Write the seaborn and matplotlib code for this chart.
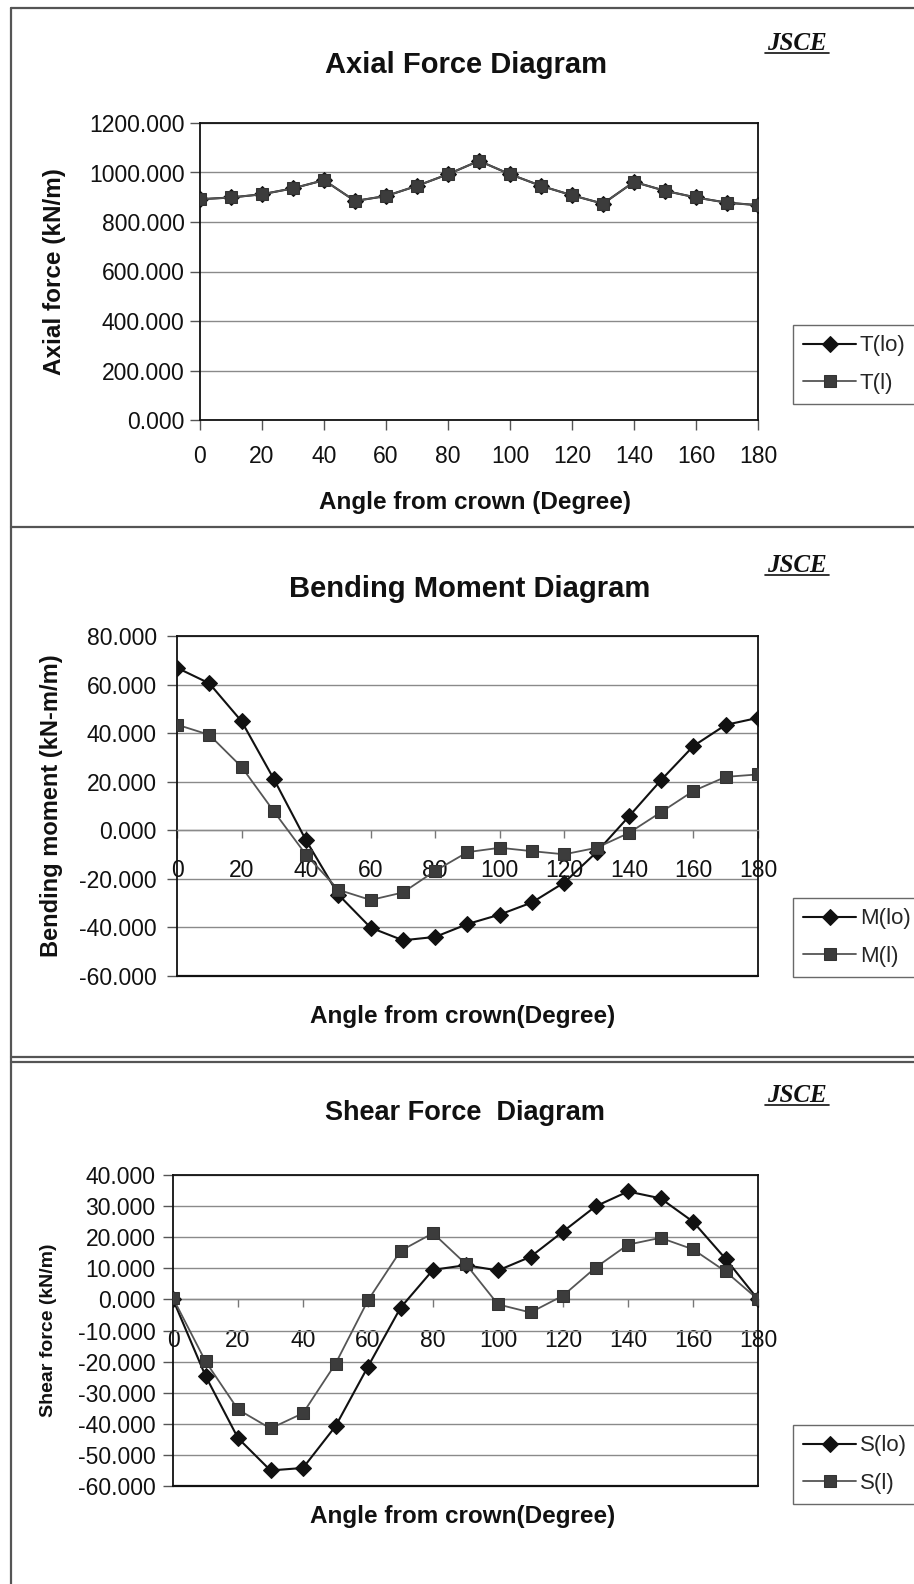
import matplotlib
matplotlib.use("Agg")
import matplotlib.pyplot as plt
from matplotlib.lines import Line2D
from matplotlib.ticker import MultipleLocator, FormatStrFormatter
import seaborn as sns
import pandas as pd

# ---------------- data ----------------
angles = [0, 10, 20, 30, 40, 50, 60, 70, 80, 90, 100, 110, 120, 130, 140, 150, 160, 170, 180]
x_ticks = [0, 20, 40, 60, 80, 100, 120, 140, 160, 180]

t_lo = [892, 899, 912, 936, 969, 885, 905, 946, 993, 1047, 993, 946, 908, 874, 962, 926, 899, 878, 868]
t_l = [892, 899, 912, 936, 969, 885, 905, 946, 993, 1047, 993, 946, 908, 874, 962, 926, 899, 878, 868]

m_lo = [66.9, 60.5, 44.9, 21.1, -4.2, -26.5, -40.1, -45.3, -43.9, -38.6, -34.7, -29.7, -21.5, -9.0, 5.7, 20.7, 34.7, 43.4, 46.3]
m_l = [43.5, 39.3, 26.1, 7.8, -10.1, -24.5, -28.7, -25.6, -16.7, -9.0, -7.2, -8.6, -9.9, -7.2, -1.1, 7.5, 16.2, 22.0, 23.0]

s_lo = [0.0, -24.6, -44.6, -55.0, -54.2, -40.8, -21.6, -2.7, 9.5, 11.0, 9.3, 13.7, 21.8, 29.9, 34.7, 32.5, 25.0, 13.1, 0.0]
s_l = [0.4, -19.9, -35.4, -41.5, -36.6, -20.7, -0.3, 15.6, 21.3, 11.5, -1.6, -4.2, 1.2, 10.2, 17.6, 19.8, 16.1, 9.0, 0.0]

titles = ["Axial Force Diagram", "Bending Moment Diagram", "Shear Force  Diagram"]
ylabels = ["Axial force (kN/m)", "Bending moment (kN-m/m)", "Shear force (kN/m)"]
xlabels = ["Angle from crown (Degree)", "Angle from crown(Degree)", "Angle from crown(Degree)"]
legend_labels = [["T(lo)", "T(l)"], ["M(lo)", "M(l)"], ["S(lo)", "S(l)"]]
stamp = "JSCE"

# ---------------- style ----------------
sns.set_style("white")
plt.rcParams["font.family"] = ["Liberation Sans", "DejaVu Sans"]

W, H = 914, 1584
fig = plt.figure(figsize=(W / 100, H / 100), dpi=100)
fig.patch.set_facecolor("white")


def fx(px):
    return px / W


def fy(py):
    return 1 - py / H


def axes_rect(left, right, top, bottom):
    return [fx(left), fy(bottom), (right - left) / W, (bottom - top) / H]


panels = [
    dict(rect=axes_rect(200, 758, 123, 420), ylim=(0, 1200), ystep=200, lo=t_lo, l=t_l,
         zero_axis=False, title_y=73, title_size=21, title_x=466, stamp_base=50,
         xlabel_y=502, xlabel_x=475, ylabel_x=54, ylabel_size=17.5, tick_size=16.5,
         legend_bottom=404, ypad=4, xpad=11),
    dict(rect=axes_rect(177, 758, 636, 976), ylim=(-60, 80), ystep=20, lo=m_lo, l=m_l,
         zero_axis=True, title_y=597, title_size=21, title_x=470, stamp_base=572,
         xlabel_y=1016, xlabel_x=463, ylabel_x=52, ylabel_size=17, tick_size=16.5,
         legend_bottom=977, ypad=7.5, xpad=15),
    dict(rect=axes_rect(173, 758, 1175, 1486), ylim=(-60, 40), ystep=10, lo=s_lo, l=s_l,
         zero_axis=True, title_y=1120, title_size=19.5, title_x=465, stamp_base=1102,
         xlabel_y=1516, xlabel_x=463, ylabel_x=49, ylabel_size=14, tick_size=16.5,
         legend_bottom=1504, ypad=5.5, xpad=15),
]

for i, p in enumerate(panels):
    ax = fig.add_axes(p["rect"])
    df = pd.DataFrame({"angle": angles, "lo": p["lo"], "l": p["l"]})
    sns.lineplot(data=df, x="angle", y="lo", ax=ax, color="#111111", lw=1.5,
                 marker="D", markersize=8.5, markeredgecolor="#111111",
                 markerfacecolor="#111111", label=legend_labels[i][0], zorder=4)
    sns.lineplot(data=df, x="angle", y="l", ax=ax, color="#555555", lw=1.3,
                 marker="s", markersize=8, markeredgecolor="#333333",
                 markerfacecolor="#3c3c3c", label=legend_labels[i][1], zorder=5)

    ax.set_xlim(0, 180)
    ax.set_ylim(*p["ylim"])
    ax.yaxis.set_major_locator(MultipleLocator(p["ystep"]))
    ax.yaxis.set_major_formatter(FormatStrFormatter("%.3f"))
    ax.set_xticks(x_ticks)
    ax.grid(axis="y", color="#8a8a8a", lw=1.0)
    ax.grid(axis="x", visible=False)
    ax.set_axisbelow(True)

    for side in ["left", "right", "top"]:
        ax.spines[side].set_color("#111111")
        ax.spines[side].set_linewidth(1.3)
        ax.spines[side].set_visible(True)

    ax.tick_params(axis="y", direction="out", length=7, width=1, color="#555555",
                   labelsize=p["tick_size"], pad=p["ypad"], left=True, labelcolor="#111111")
    if p["zero_axis"]:
        ax.spines["bottom"].set_position(("data", 0))
        ax.spines["bottom"].set_color("#8a8a8a")
        ax.spines["bottom"].set_linewidth(1.0)
        ax.axhline(p["ylim"][0], color="#111111", lw=1.6, clip_on=False, zorder=6)
        ax.tick_params(axis="x", direction="out", length=6, width=1, color="#777777",
                       labelsize=p["tick_size"], pad=p["xpad"], bottom=True,
                       labelcolor="#111111")
    else:
        ax.spines["bottom"].set_color("#111111")
        ax.spines["bottom"].set_linewidth(1.3)
        ax.tick_params(axis="x", direction="out", length=7, width=1, color="#555555",
                       labelsize=p["tick_size"], pad=p["xpad"], bottom=True,
                       labelcolor="#111111")

    ax.set_xlabel(xlabels[i], fontsize=17.5, fontweight="bold", color="#111111")
    ax.xaxis.set_label_coords(fx(p["xlabel_x"]), fy(p["xlabel_y"]), transform=fig.transFigure)
    ax.xaxis.label.set_va("center")
    ax.set_ylabel(ylabels[i], fontsize=p["ylabel_size"], fontweight="bold", color="#111111")
    ax.yaxis.set_label_coords(fx(p["ylabel_x"]), (p["rect"][1] + p["rect"][3] / 2),
                              transform=fig.transFigure)
    ax.yaxis.label.set_va("center")

    leg = ax.legend(loc="lower left", bbox_to_anchor=(fx(793), fy(p["legend_bottom"])),
                    bbox_transform=fig.transFigure, borderaxespad=0, frameon=True,
                    fancybox=False, fontsize=16, handlelength=2.4, handletextpad=0.15,
                    labelspacing=0.75, borderpad=0.45)
    leg.get_frame().set_edgecolor("#444444")
    leg.get_frame().set_linewidth(1.0)

    # title and stamp
    fig.text(fx(p["title_x"]), fy(p["title_y"]), titles[i], ha="center", va="baseline",
             fontsize=p["title_size"], fontweight="bold", color="#111111")
    fig.text(fx(797), fy(p["stamp_base"]), stamp, ha="center", va="baseline",
             fontsize=18, fontweight="bold", fontstyle="italic",
             family=["Liberation Serif", "DejaVu Serif"], color="#111111")
    fig.add_artist(Line2D([fx(765), fx(829)], [fy(p["stamp_base"] + 3)] * 2,
                          color="#111111", lw=1.2))

# panel frame lines
frame_kw = dict(color="#555555", lw=1.6)
fig.add_artist(Line2D([fx(11), fx(11)], [fy(8), fy(1584)], **frame_kw))
fig.add_artist(Line2D([fx(11), fx(914)], [fy(8), fy(8)], **frame_kw))
fig.add_artist(Line2D([fx(11), fx(914)], [fy(527), fy(527)], **frame_kw))
fig.add_artist(Line2D([fx(11), fx(914)], [fy(1057), fy(1057)], **frame_kw))
fig.add_artist(Line2D([fx(11), fx(914)], [fy(1062), fy(1062)], **frame_kw))

fig.savefig("out.png", dpi=100)
